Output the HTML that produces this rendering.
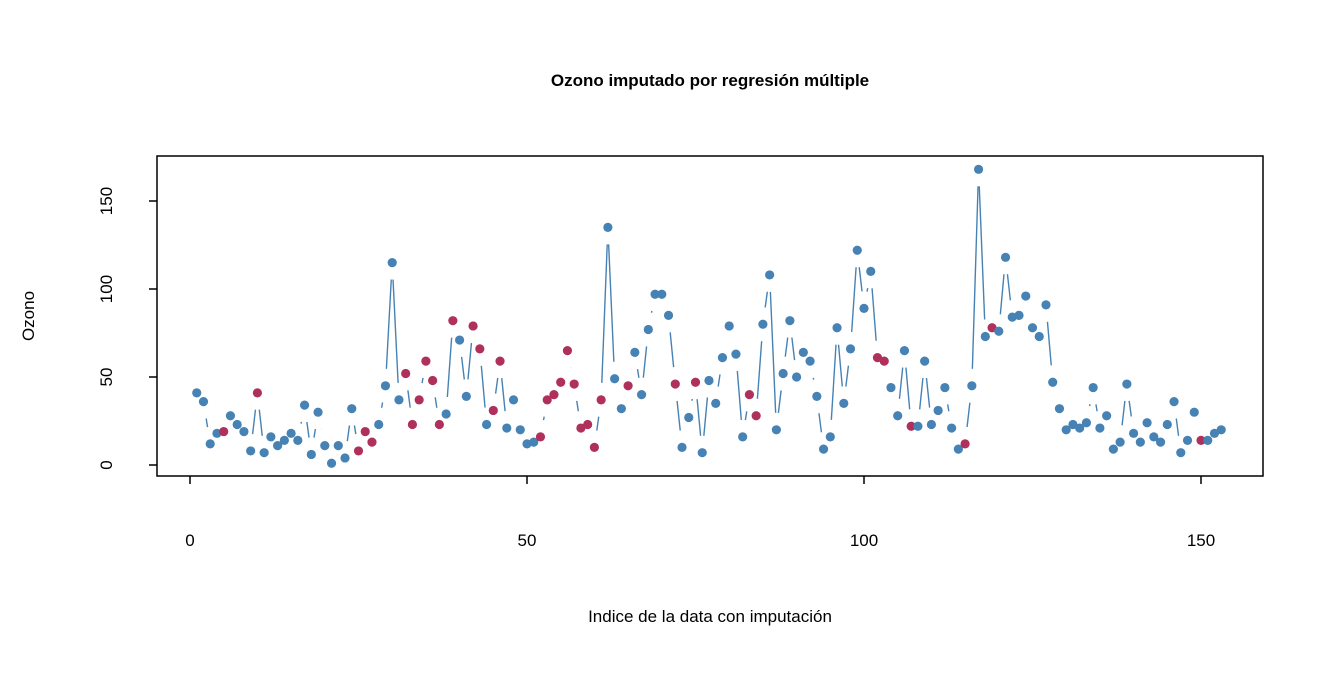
<!DOCTYPE html>
<html><head><meta charset="utf-8"><style>
html,body{margin:0;padding:0;background:#fff}
svg text{font-family:"Liberation Sans",Arial,sans-serif;fill:#000}
</style></head><body>
<svg id="s" width="1344" height="672" xmlns="http://www.w3.org/2000/svg">
<rect width="1344" height="672" fill="#fff"/>
<text x="710" y="86" font-size="17" font-weight="bold" text-anchor="middle">Ozono imputado por regresión múltiple</text>
<text x="710" y="622" font-size="17" text-anchor="middle">Indice de la data con imputación</text>
<text transform="translate(34,316) rotate(-90)" font-size="17" text-anchor="middle">Ozono</text>
<rect x="157" y="156" width="1106" height="320" fill="none" stroke="#000" stroke-width="1.5"/>
<g id="ax" stroke="#000" stroke-width="1.5"></g>
<g id="lab" font-size="17"></g>
<g id="ln" stroke="#4682B4" stroke-width="1.4" fill="none"></g>
<g id="pt"></g>
</svg>
<script>
var O=[41,36,12,18,null,28,23,19,8,null,7,16,11,14,18,14,34,6,30,11,1,11,4,32,null,null,null,23,45,115,37,null,null,null,null,null,null,29,null,71,39,null,null,23,null,null,21,37,20,12,13,null,null,null,null,null,null,null,null,null,null,135,49,32,null,64,40,77,97,97,85,null,10,27,null,7,48,35,61,79,63,16,null,null,80,108,20,52,82,50,64,59,39,9,16,78,35,66,122,89,110,null,null,44,28,65,null,22,59,23,31,44,21,9,null,45,168,73,null,76,118,84,85,96,78,73,91,47,32,20,23,21,24,44,21,28,9,13,46,18,13,24,16,13,23,36,7,14,30,null,14,18,20];
var I={5:19,10:41,25:8,26:19,27:13,32:52,33:23,34:37,35:59,36:48,37:23,39:82,42:79,43:66,45:31,46:59,52:16,53:37,54:40,55:47,56:65,57:46,58:21,59:23,60:10,61:37,65:45,72:46,75:47,83:40,84:28,102:61,103:59,107:22,115:12,119:78,150:14};
var NS="http://www.w3.org/2000/svg";
function X(i){return 190+(i)*1011/150}
function Y(v){return 465-v*264/150}
function el(p,t,a,txt){var e=document.createElementNS(NS,t);for(var k in a)e.setAttribute(k,a[k]);if(txt!=null)e.textContent=txt;document.getElementById(p).appendChild(e);}
[0,50,100,150].forEach(function(v){el('ax','line',{x1:X(v),x2:X(v),y1:476,y2:484});el('lab','text',{x:X(v),y:546,'text-anchor':'middle'},v);
el('ax','line',{x1:149,x2:157,y1:Y(v),y2:Y(v)});el('lab','text',{transform:'translate(112,'+Y(v)+') rotate(-90)','text-anchor':'middle'},v);});
var P=[];for(var i=1;i<=153;i++){var v=O[i-1],r=false;if(v==null){v=I[i];r=true;}P.push([X(i),Y(v),r]);}
var g=17;
for(var i=0;i<P.length-1;i++){var a=P[i],b=P[i+1],dx=b[0]-a[0],dy=b[1]-a[1],d=Math.hypot(dx,dy);if(d>2*g){var ux=dx/d,uy=dy/d;el('ln','line',{x1:a[0]+ux*g,y1:a[1]+uy*g,x2:b[0]-ux*g,y2:b[1]-uy*g});}}
P.forEach(function(p){el('pt','circle',{cx:p[0],cy:p[1],r:4.6,fill:p[2]?'#B0305C':'#4682B4'});});
</script>
</body></html>
